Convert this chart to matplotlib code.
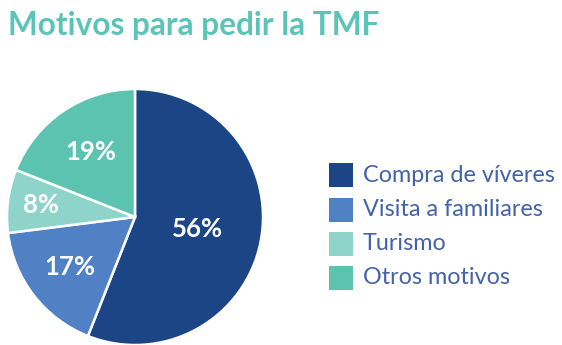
import numpy as np
import matplotlib
matplotlib.use("Agg")
import matplotlib.pyplot as plt
from matplotlib.patches import Rectangle

categories = ["Compra de víveres", "Visita a familiares", "Turismo", "Otros motivos"]
shares = [56, 17, 8, 19]
colors = ["#1b4585", "#4f81c4", "#8fd4ca", "#5cc3b1"]
label_radius = [0.50, 0.64, 0.74, 0.61]

W, H = 562, 345
fig = plt.figure(figsize=(W / 100, H / 100), dpi=100)
fig.patch.set_facecolor("white")

# pie occupies a square region on the left
cx, cy, r = 135, 217, 128
ax = fig.add_axes([(cx - r) / W, (H - cy - r) / H, 2 * r / W, 2 * r / H])
wedges, _ = ax.pie(shares, colors=colors, startangle=90, counterclock=False,
                   radius=1.0, wedgeprops=dict(edgecolor="white", linewidth=1.8))
ax.set_xlim(-1, 1)
ax.set_ylim(-1, 1)
ax.set_aspect("equal")
ax.axis("off")

for w, v, d in zip(wedges, shares, label_radius):
    mid = np.deg2rad((w.theta1 + w.theta2) / 2)
    ax.text(d * np.cos(mid), d * np.sin(mid), f"{v}%", ha="center", va="center",
            color="white", fontsize=18.5, fontweight="bold", family="Lato")

fig.text(8 / W, 1 - 26 / H, "Motivos para pedir la TMF", ha="left", va="center",
         color="#5bc4b9", fontsize=22.8, fontweight="bold", family="Lato")

# legend
sq = 24
x0 = 329
ys = [175, 210, 244, 278]
for y, c, lab in zip(ys, colors, categories):
    fig.patches.append(Rectangle((x0 / W, (H - y - sq / 2) / H), sq / W, sq / H,
                                 transform=fig.transFigure, facecolor=c,
                                 edgecolor="none"))
    fig.text(363 / W, 1 - y / H, lab, ha="left", va="center", color="#4262aa",
             fontsize=16.8, family="Lato")

fig.savefig("out.png", dpi=100, facecolor="white")
